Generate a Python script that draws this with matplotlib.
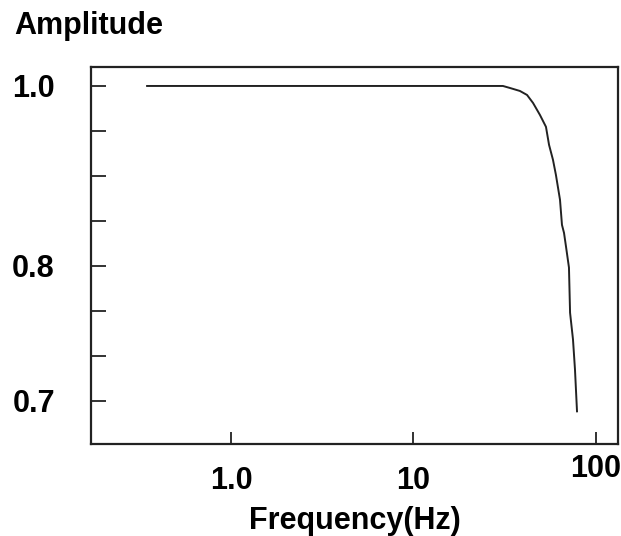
import numpy as np
import matplotlib
matplotlib.use("Agg")
import matplotlib.pyplot as plt
from matplotlib.transforms import ScaledTranslation

# Data
freq_hz = [0.347, 5.0, 30.9, 33.8, 38.3, 41.9, 45.2, 49.3, 53.2, 55.3, 58.1, 60.3,
           63.5, 65.1, 66.8, 68.5, 71.1, 72.1, 74.8, 76.7, 78.7]
amplitude = [1.0, 1.0, 1.0, 0.9971, 0.9929, 0.9873, 0.9763, 0.9604, 0.9451, 0.9230,
             0.9056, 0.8887, 0.8622, 0.8373, 0.8297, 0.8170, 0.7985, 0.7615, 0.7415,
             0.7203, 0.6928]
x_ticks = [1.0, 10, 100]
x_tick_labels = ["1.0", "10", "100"]
y_labels = {1.0: "1.0", 0.8: "0.8", 0.7: "0.7"}

P = 1.25
A = 12.44


def fwd(y):
    y = np.asarray(y, dtype=float)
    return -np.power(np.clip(y, 1e-6, None), -P)


def inv(u):
    u = np.asarray(u, dtype=float)
    return np.power(np.clip(-u, 1e-6, None), -1.0 / P)


plt.rcParams['font.family'] = ['Liberation Sans', 'DejaVu Sans']
FS = 22

fig = plt.figure(figsize=(6.21, 5.36), dpi=100)
ax = fig.add_axes([91 / 621, 1 - 444 / 536, (618 - 91) / 621, (444 - 67) / 536])

ax.plot(freq_hz, amplitude, color='#222222', lw=1.4)

ax.set_xscale('log')
ax.set_yscale('function', functions=(fwd, inv))
ax.set_xlim(0.171, 132)
ax.set_ylim(0.673, 1.028)

# y ticks evenly spaced in transformed space
k = np.arange(0, 8)
yt = (1 + k / A) ** (-1.0 / P)
ax.set_yticks(yt)
ax.set_yticklabels([y_labels.get(round(v, 2), "") if i in (0, 4, 7) else "" for i, v in enumerate(yt)])
ax.yaxis.set_minor_locator(matplotlib.ticker.NullLocator())

ax.set_xticks(x_ticks)
ax.set_xticklabels(x_tick_labels)
ax.xaxis.set_minor_locator(matplotlib.ticker.NullLocator())

ax.tick_params(axis='y', direction='in', length=11, width=1.3, color='#222222',
               labelsize=FS, pad=26, right=False)
ax.tick_params(axis='x', direction='in', length=9, width=1.3, color='#222222',
               labelsize=FS, pad=16, top=False)
for lab in ax.get_yticklabels() + ax.get_xticklabels():
    lab.set_fontweight('bold')

# last x label sits higher
lab100 = ax.get_xticklabels()[2]
lab100.set_transform(lab100.get_transform() + ScaledTranslation(0, 12 / 100, fig.dpi_scale_trans))

for s in ax.spines.values():
    s.set_linewidth(1.6)
    s.set_color('#222222')

ax.set_xlabel("Frequency(Hz)", fontsize=FS, fontweight='bold', labelpad=7)
fig.text(14 / 621, 1 - 26 / 536, "Amplitude", fontsize=FS, fontweight='bold',
         ha='left', va='center')

fig.savefig("out.png", dpi=100)
